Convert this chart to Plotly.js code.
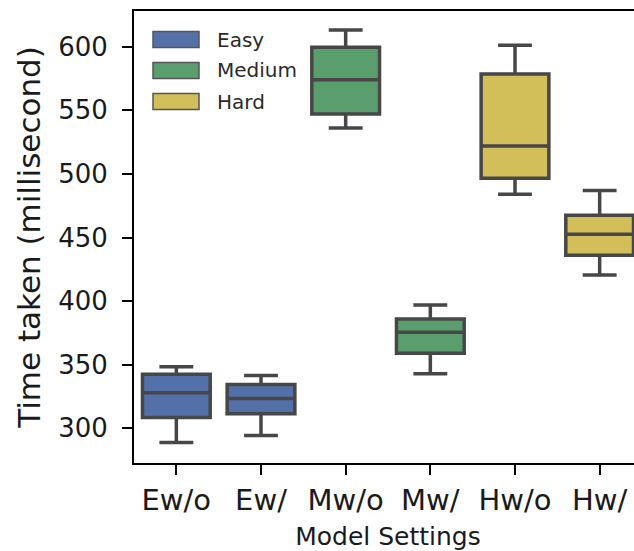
<!DOCTYPE html>
<html>
<head>
<meta charset="utf-8">
<script src="https://cdn.plot.ly/plotly-3.0.1.min.js"></script>
<style>
html, body { margin: 0; padding: 0; overflow: hidden; background: #fff; }
#chart { width: 643px; height: 551px; }
</style>
</head>
<body>
<div id="chart"></div>
<script>
// Categories and groups
const categories = ["Ew/o", "Ew/", "Mw/o", "Mw/", "Hw/o", "Hw/"];
const groupNames = ["Easy", "Medium", "Hard"];
const groupCategories = [["Ew/o", "Ew/"], ["Mw/o", "Mw/"], ["Hw/o", "Hw/"]];
const groupColors = ["#5470a8", "#5a9e6e", "#d2bf5a"];

// Box statistics per category (milliseconds)
const lowerWhisker = [289, 294.5, 536, 343, 484, 420.5];
const q1Values     = [308.5, 311.5, 547, 359, 496.5, 436];
const medianValues = [328, 323.5, 574, 375.5, 522, 452.5];
const q3Values     = [342.5, 334.5, 599.5, 386, 578.5, 467.5];
const upperWhisker = [348.5, 341.5, 613, 397, 601, 487];

const lineColor = "#474747";
const font = "DejaVu Sans, Liberation Sans, sans-serif";

const traces = groupNames.map((name, g) => {
  const idx = groupCategories[g].map(c => categories.indexOf(c));
  return {
    type: "box",
    name: name,
    x: idx.map(i => categories[i]),
    lowerfence: idx.map(i => lowerWhisker[i]),
    q1: idx.map(i => q1Values[i]),
    median: idx.map(i => medianValues[i]),
    q3: idx.map(i => q3Values[i]),
    upperfence: idx.map(i => upperWhisker[i]),
    width: 0.8,
    whiskerwidth: 0.5,
    fillcolor: groupColors[g],
    line: { color: lineColor, width: 3.5 },
    boxpoints: false,
    showlegend: false,
    hoverinfo: "skip"
  };
});

// Manual legend (patches + labels) in the top-left corner of the axes
const shapes = [];
const annotations = [];
const plotLeft = 134, plotTop = 11, plotW = 643 - 1 - 134, plotH = 551 - 11 - 88;
groupNames.forEach((name, g) => {
  const cy = 39.5 + g * 31;
  const x0 = (153 - plotLeft) / plotW, x1 = (199 - plotLeft) / plotW;
  const y0 = 1 - (cy - 8 - plotTop) / plotH, y1 = 1 - (cy + 8 - plotTop) / plotH;
  shapes.push({
    type: "rect", xref: "paper", yref: "paper",
    x0: x0, x1: x1, y0: y0, y1: y1,
    fillcolor: groupColors[g], line: { color: "#555555", width: 1.5 }
  });
  annotations.push({
    xref: "paper", yref: "paper",
    x: (215 - plotLeft) / plotW, y: 1 - (cy - plotTop) / plotH,
    xanchor: "left", yanchor: "middle", showarrow: false,
    text: name, font: { family: font, size: 20, color: "#2a2a2a" }
  });
});

const layout = {
  width: 643,
  height: 551,
  margin: { l: 134, r: 1, t: 11, b: 88 },
  paper_bgcolor: "#ffffff",
  plot_bgcolor: "#ffffff",
  boxmode: "overlay",
  showlegend: false,
  xaxis: {
    type: "category",
    categoryorder: "array",
    categoryarray: categories,
    range: [-0.5, 5.5],
    showgrid: false,
    zeroline: false,
    showline: true,
    linecolor: "#000000",
    linewidth: 2,
    mirror: true,
    ticks: "outside",
    ticklen: 10,
    tickwidth: 2,
    tickcolor: "#000000",
    tickfont: { family: font, size: 29, color: "#1a1a1a" },
    title: { text: "Model Settings", font: { family: font, size: 25, color: "#1a1a1a" }, standoff: 12 }
  },
  yaxis: {
    range: [272.8, 628],
    tickvals: [300, 350, 400, 450, 500, 550, 600],
    showgrid: false,
    zeroline: false,
    showline: true,
    linecolor: "#000000",
    linewidth: 2,
    ticks: "outside",
    ticklen: 10,
    tickwidth: 2,
    tickcolor: "#000000",
    ticklabelstandoff: 9,
    tickfont: { family: font, size: 26, color: "#1a1a1a" },
    title: { text: "Time taken (millisecond)", font: { family: font, size: 31, color: "#1a1a1a" }, standoff: 8 }
  },
  shapes: shapes,
  annotations: annotations
};

Plotly.newPlot("chart", traces, layout, { displayModeBar: false, staticPlot: true });
</script>
</body>
</html>
